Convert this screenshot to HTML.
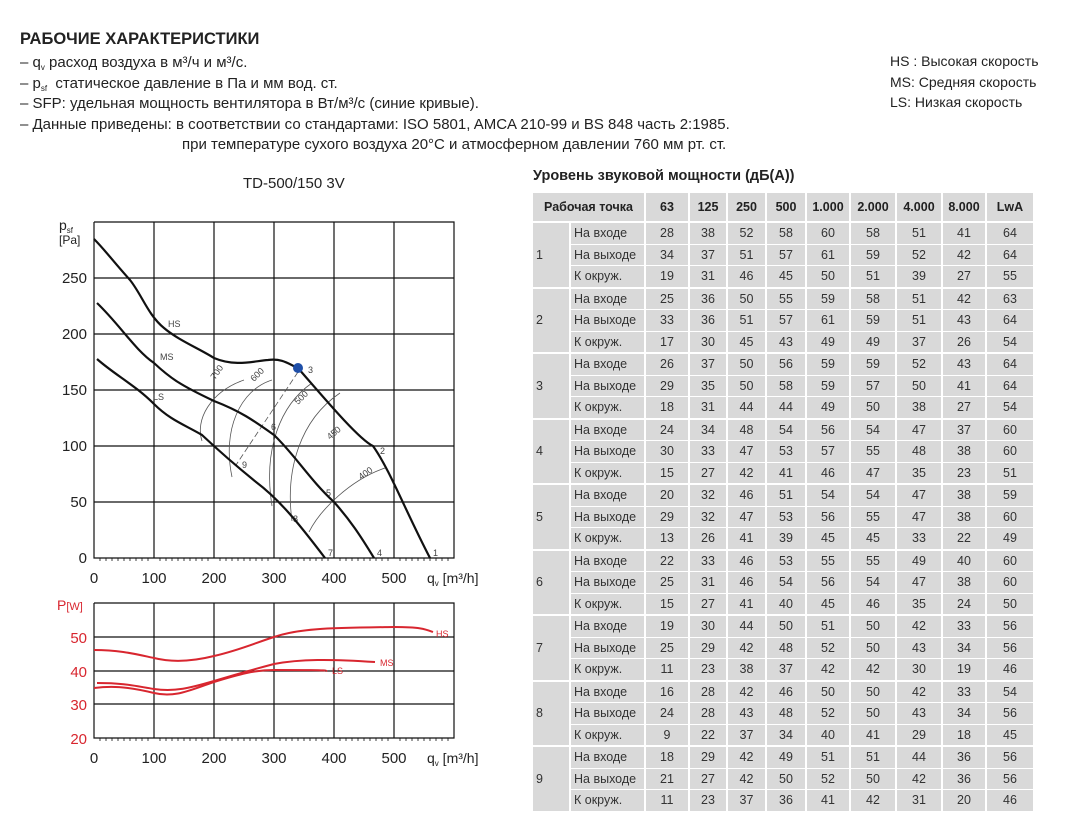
<!DOCTYPE html>
<html><head><meta charset="utf-8"><style>
body{margin:0;background:#fff;width:1074px;height:834px;position:relative;overflow:hidden;font-family:"Liberation Sans",sans-serif;color:#222}
.t{position:absolute;white-space:nowrap}
.sb{font-size:8px;position:relative;top:3px;line-height:0}
table{position:absolute;left:531px;top:192px;border-collapse:separate;border-spacing:2px 1px;font-size:12.5px;color:#333;table-layout:fixed;width:502px}
td{background:#d9d9d9;padding:0;height:20.5px;text-align:center;overflow:hidden}
td.l{text-align:left;padding-left:3px}
tr.h td{height:28px;font-weight:bold;color:#222}
tr.g td{border-top:1px solid #fff}
</style></head><body>
<div class="t" style="left:20px;top:30px;font-size:16.5px;font-weight:bold">РАБОЧИЕ ХАРАКТЕРИСТИКИ</div>
<div class="t" style="left:20px;top:53px;font-size:15px;line-height:20.5px">
– q<span class="sb">v</span> расход воздуха в м³/ч и м³/с.<br>
– p<span class="sb">sf</span>&nbsp; статическое давление в Па и мм вод. ст.<br>
– SFP: удельная мощность вентилятора в Вт/м³/с (синие кривые).<br>
– Данные приведены: в соответствии со стандартами: ISO 5801, AMCA 210-99 и BS 848 часть 2:1985.<br>
<span style="padding-left:162px">при температуре сухого воздуха 20°C и атмосферном давлении 760 мм рт. ст.</span></div>
<div class="t" style="left:890px;top:51px;font-size:14px;line-height:20.5px">HS : Высокая скорость<br>MS: Средняя скорость<br>LS: Низкая скорость</div>
<div class="t" style="left:243px;top:175px;font-size:15px">TD-500/150 3V</div>
<div class="t" style="left:533px;top:168px;font-size:14.5px;font-weight:bold">Уровень звуковой мощности (дБ(A))</div>

<svg width="1074" height="834" style="position:absolute;left:0;top:0" font-family="Liberation Sans, sans-serif">
<g stroke="#111" stroke-width="1.2" fill="none">
<path d="M94 222V558H454V222H94M154 222V558M214 222V558M274 222V558M334 222V558M394 222V558M94 278H454M94 334H454M94 390H454M94 446H454M94 502H454"/>
<path d="M94 603V738H454V603H94M154 603V738M214 603V738M274 603V738M334 603V738M394 603V738M94 637H454M94 671H454M94 704H454"/>
</g>
<g stroke="#111" stroke-width="0.8">
<path d="M100 558v3M106 558v3M112 558v3M118 558v3M124 558v3M130 558v3M136 558v3M142 558v3M148 558v3M160 558v3M166 558v3M172 558v3M178 558v3M184 558v3M190 558v3M196 558v3M202 558v3M208 558v3M220 558v3M226 558v3M232 558v3M238 558v3M244 558v3M250 558v3M256 558v3M262 558v3M268 558v3M280 558v3M286 558v3M292 558v3M298 558v3M304 558v3M310 558v3M316 558v3M322 558v3M328 558v3M340 558v3M346 558v3M352 558v3M358 558v3M364 558v3M370 558v3M376 558v3M382 558v3M388 558v3M400 558v3M406 558v3M412 558v3M418 558v3M424 558v3M430 558v3M436 558v3M442 558v3M448 558v3"/>
<path d="M100 738v3M106 738v3M112 738v3M118 738v3M124 738v3M130 738v3M136 738v3M142 738v3M148 738v3M160 738v3M166 738v3M172 738v3M178 738v3M184 738v3M190 738v3M196 738v3M202 738v3M208 738v3M220 738v3M226 738v3M232 738v3M238 738v3M244 738v3M250 738v3M256 738v3M262 738v3M268 738v3M280 738v3M286 738v3M292 738v3M298 738v3M304 738v3M310 738v3M316 738v3M322 738v3M328 738v3M340 738v3M346 738v3M352 738v3M358 738v3M364 738v3M370 738v3M376 738v3M382 738v3M388 738v3M400 738v3M406 738v3M412 738v3M418 738v3M424 738v3M430 738v3M436 738v3M442 738v3M448 738v3"/>
</g>
<g font-size="15" fill="#222" text-anchor="end">
<text x="87" y="563">0</text><text x="87" y="507">50</text><text x="87" y="451">100</text><text x="87" y="395">150</text><text x="87" y="339">200</text><text x="87" y="283">250</text>
</g>
<g font-size="15" fill="#222" text-anchor="middle">
<text x="94" y="583">0</text><text x="154" y="583">100</text><text x="214" y="583">200</text><text x="274" y="583">300</text><text x="334" y="583">400</text><text x="394" y="583">500</text>
<text x="94" y="763">0</text><text x="154" y="763">100</text><text x="214" y="763">200</text><text x="274" y="763">300</text><text x="334" y="763">400</text><text x="394" y="763">500</text>
</g>
<text x="427" y="583" font-size="14" fill="#222">q<tspan font-size="8" dy="3">v</tspan><tspan dy="-3"> [m³/h]</tspan></text>
<text x="427" y="763" font-size="14" fill="#222">q<tspan font-size="8" dy="3">v</tspan><tspan dy="-3"> [m³/h]</tspan></text>
<text x="59" y="230" font-size="14" fill="#222">p<tspan font-size="8" dy="3">sf</tspan></text>
<text x="59" y="244" font-size="12" fill="#222">[Pa]</text>
<g font-size="15" fill="#d8262f" text-anchor="end">
<text x="87" y="643">50</text><text x="87" y="677">40</text><text x="87" y="710">30</text><text x="87" y="744">20</text>
</g>
<text x="57" y="610" font-size="14" fill="#d8262f">P<tspan font-size="11">[W]</tspan></text>
<g stroke="#555" stroke-width="0.8" fill="none">
<path d="M244 380 C210 392 195 420 202 441"/>
<path d="M272 380 C240 390 222 430 232 477"/>
<path d="M312 383 C280 405 263 450 272 506"/>
<path d="M340 393 C300 420 285 470 292 521"/>
<path d="M385 468 C350 480 320 510 309 532"/>
<path d="M298 372 L236 465" stroke-dasharray="6 3"/>
</g>
<g font-size="9" fill="#444">
<text x="215" y="380" transform="rotate(-55 215 380)">700</text>
<text x="254" y="382" transform="rotate(-45 254 382)">600</text>
<text x="298" y="405" transform="rotate(-45 298 405)">500</text>
<text x="330" y="440" transform="rotate(-40 330 440)">450</text>
<text x="361" y="480" transform="rotate(-35 361 480)">400</text>
<text x="308" y="373">3</text><text x="380" y="454">2</text><text x="433" y="556">1</text><text x="377" y="556">4</text><text x="328" y="556">7</text>
<text x="326" y="496">5</text><text x="271" y="430">6</text><text x="293" y="522">8</text><text x="242" y="468">9</text>
<text x="168" y="327">HS</text><text x="160" y="360">MS</text><text x="153" y="400">LS</text>
</g>
<g stroke="#111" stroke-width="2.2" fill="none">
<path d="M94 239 C105 250 112 260 130 280 C142 295 148 315 164 328 C178 340 200 349 214 358 C235 367 254 361 268 360 C283 358 290 365 298 368 C330 405 360 440 373 446 C390 470 405 510 430 558"/>
<path d="M97 303 C120 325 135 350 154 363 C170 378 180 385 214 401 C240 411 253 420 274 435 C295 455 310 480 334 502 C350 520 360 535 374 558"/>
<path d="M97 359 C115 375 135 385 154 404 C170 420 185 425 202 435 C218 450 235 465 256 482 C280 500 300 525 325 558"/>
</g>
<circle cx="298" cy="368" r="5" fill="#1f4fa8"/>
<g stroke="#d8262f" stroke-width="2" fill="none">
<path d="M94 650 C120 650 135 654 154 658 C170 662 190 662 214 656 C240 650 255 643 274 637 C300 628 330 628 394 627 C420 627 425 629 433 632"/>
<path d="M97 683 C125 683 135 686 154 689 C175 692 190 688 214 681 C240 673 255 669 274 664 C300 659 330 659 375 662"/>
<path d="M94 688 C110 686 125 686 154 693 C175 698 190 690 214 682 C240 674 255 670 274 670 C300 670 330 670 326 671"/>
</g>
<g font-size="9" fill="#d8262f"><text x="436" y="637">HS</text><text x="380" y="666">MS</text><text x="332" y="674">LS</text></g>
</svg>

<table>
<colgroup><col style="width:36px"><col style="width:73px"><col style="width:42px"><col style="width:36px"><col style="width:37px"><col style="width:38px"><col style="width:42px"><col style="width:44px"><col style="width:44px"><col style="width:42px"><col style="width:46px"></colgroup>
<tr class="h"><td colspan="2">Рабочая точка</td><td>63</td><td>125</td><td>250</td><td>500</td><td>1.000</td><td>2.000</td><td>4.000</td><td>8.000</td><td>LwA</td></tr>
<tr class="g"><td rowspan="3" class="l">1</td><td class="l">На входе</td><td>28</td><td>38</td><td>52</td><td>58</td><td>60</td><td>58</td><td>51</td><td>41</td><td>64</td></tr>
<tr><td class="l">На выходе</td><td>34</td><td>37</td><td>51</td><td>57</td><td>61</td><td>59</td><td>52</td><td>42</td><td>64</td></tr>
<tr><td class="l">К окруж.</td><td>19</td><td>31</td><td>46</td><td>45</td><td>50</td><td>51</td><td>39</td><td>27</td><td>55</td></tr>
<tr class="g"><td rowspan="3" class="l">2</td><td class="l">На входе</td><td>25</td><td>36</td><td>50</td><td>55</td><td>59</td><td>58</td><td>51</td><td>42</td><td>63</td></tr>
<tr><td class="l">На выходе</td><td>33</td><td>36</td><td>51</td><td>57</td><td>61</td><td>59</td><td>51</td><td>43</td><td>64</td></tr>
<tr><td class="l">К окруж.</td><td>17</td><td>30</td><td>45</td><td>43</td><td>49</td><td>49</td><td>37</td><td>26</td><td>54</td></tr>
<tr class="g"><td rowspan="3" class="l">3</td><td class="l">На входе</td><td>26</td><td>37</td><td>50</td><td>56</td><td>59</td><td>59</td><td>52</td><td>43</td><td>64</td></tr>
<tr><td class="l">На выходе</td><td>29</td><td>35</td><td>50</td><td>58</td><td>59</td><td>57</td><td>50</td><td>41</td><td>64</td></tr>
<tr><td class="l">К окруж.</td><td>18</td><td>31</td><td>44</td><td>44</td><td>49</td><td>50</td><td>38</td><td>27</td><td>54</td></tr>
<tr class="g"><td rowspan="3" class="l">4</td><td class="l">На входе</td><td>24</td><td>34</td><td>48</td><td>54</td><td>56</td><td>54</td><td>47</td><td>37</td><td>60</td></tr>
<tr><td class="l">На выходе</td><td>30</td><td>33</td><td>47</td><td>53</td><td>57</td><td>55</td><td>48</td><td>38</td><td>60</td></tr>
<tr><td class="l">К окруж.</td><td>15</td><td>27</td><td>42</td><td>41</td><td>46</td><td>47</td><td>35</td><td>23</td><td>51</td></tr>
<tr class="g"><td rowspan="3" class="l">5</td><td class="l">На входе</td><td>20</td><td>32</td><td>46</td><td>51</td><td>54</td><td>54</td><td>47</td><td>38</td><td>59</td></tr>
<tr><td class="l">На выходе</td><td>29</td><td>32</td><td>47</td><td>53</td><td>56</td><td>55</td><td>47</td><td>38</td><td>60</td></tr>
<tr><td class="l">К окруж.</td><td>13</td><td>26</td><td>41</td><td>39</td><td>45</td><td>45</td><td>33</td><td>22</td><td>49</td></tr>
<tr class="g"><td rowspan="3" class="l">6</td><td class="l">На входе</td><td>22</td><td>33</td><td>46</td><td>53</td><td>55</td><td>55</td><td>49</td><td>40</td><td>60</td></tr>
<tr><td class="l">На выходе</td><td>25</td><td>31</td><td>46</td><td>54</td><td>56</td><td>54</td><td>47</td><td>38</td><td>60</td></tr>
<tr><td class="l">К окруж.</td><td>15</td><td>27</td><td>41</td><td>40</td><td>45</td><td>46</td><td>35</td><td>24</td><td>50</td></tr>
<tr class="g"><td rowspan="3" class="l">7</td><td class="l">На входе</td><td>19</td><td>30</td><td>44</td><td>50</td><td>51</td><td>50</td><td>42</td><td>33</td><td>56</td></tr>
<tr><td class="l">На выходе</td><td>25</td><td>29</td><td>42</td><td>48</td><td>52</td><td>50</td><td>43</td><td>34</td><td>56</td></tr>
<tr><td class="l">К окруж.</td><td>11</td><td>23</td><td>38</td><td>37</td><td>42</td><td>42</td><td>30</td><td>19</td><td>46</td></tr>
<tr class="g"><td rowspan="3" class="l">8</td><td class="l">На входе</td><td>16</td><td>28</td><td>42</td><td>46</td><td>50</td><td>50</td><td>42</td><td>33</td><td>54</td></tr>
<tr><td class="l">На выходе</td><td>24</td><td>28</td><td>43</td><td>48</td><td>52</td><td>50</td><td>43</td><td>34</td><td>56</td></tr>
<tr><td class="l">К окруж.</td><td>9</td><td>22</td><td>37</td><td>34</td><td>40</td><td>41</td><td>29</td><td>18</td><td>45</td></tr>
<tr class="g"><td rowspan="3" class="l">9</td><td class="l">На входе</td><td>18</td><td>29</td><td>42</td><td>49</td><td>51</td><td>51</td><td>44</td><td>36</td><td>56</td></tr>
<tr><td class="l">На выходе</td><td>21</td><td>27</td><td>42</td><td>50</td><td>52</td><td>50</td><td>42</td><td>36</td><td>56</td></tr>
<tr><td class="l">К окруж.</td><td>11</td><td>23</td><td>37</td><td>36</td><td>41</td><td>42</td><td>31</td><td>20</td><td>46</td></tr>
</table>
</body></html>
